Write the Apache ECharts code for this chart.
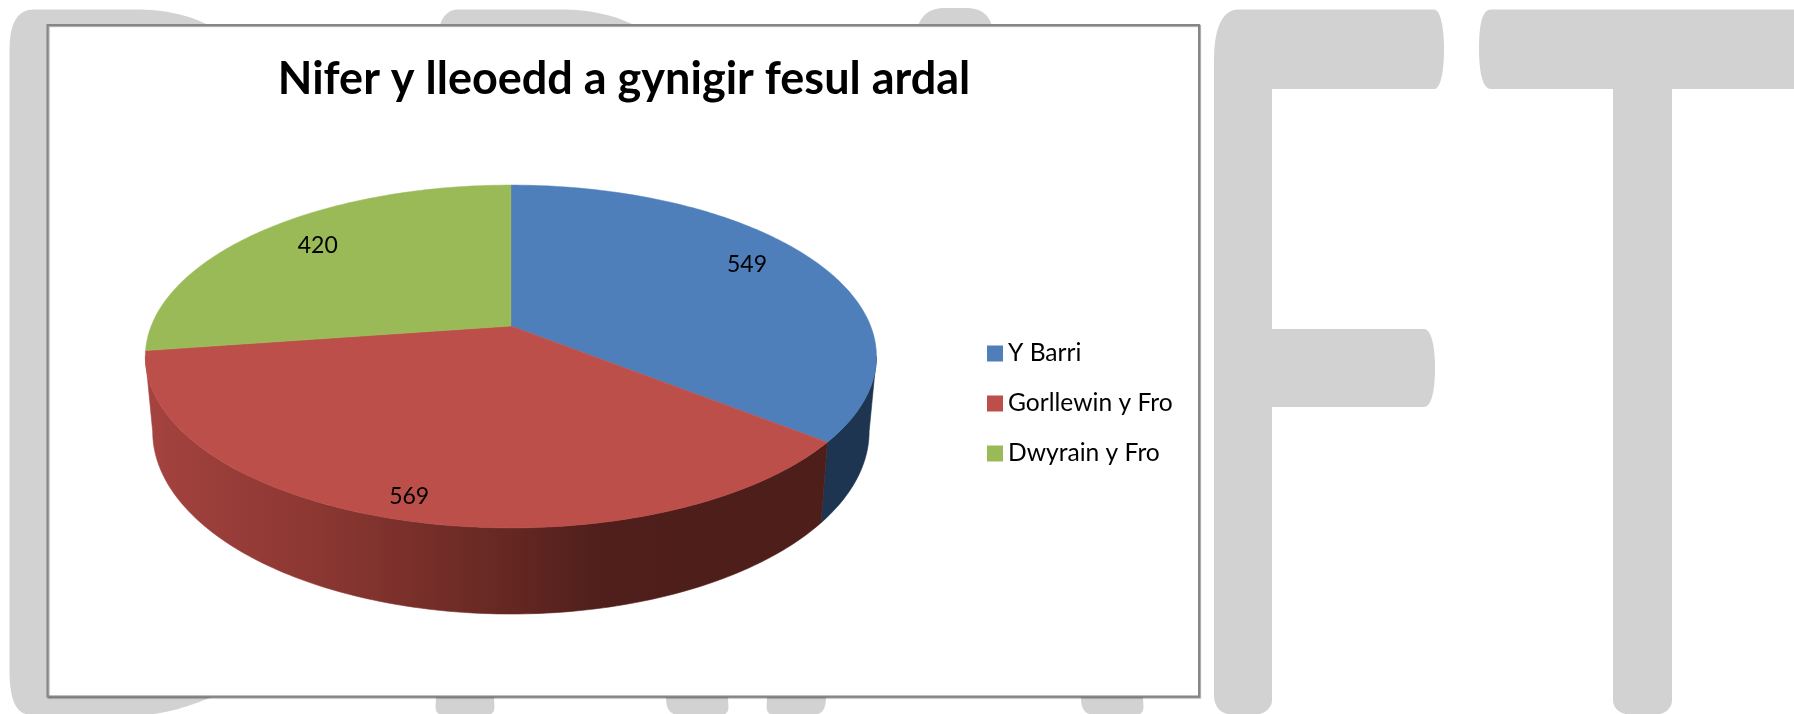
<!DOCTYPE html>
<html>
<head>
<meta charset="utf-8">
<style>html,body{margin:0;padding:0;background:#fff}#c{width:1794px;height:714px}</style>
<script src="https://cdn.jsdelivr.net/npm/echarts@6/dist/echarts.min.js"></script>
</head>
<body>
<div id="c"></div>
<script>
const chartTitle = 'Nifer y lleoedd a gynigir fesul ardal';
const categories = ['Y Barri', 'Gorllewin y Fro', 'Dwyrain y Fro'];
const values = [549, 569, 420];

const topColors = ['#4E7FBB', '#BD4F4A', '#9ABA57'];
const FONT = 'Lato, "Open Sans", sans-serif';
const LABEL_R = [0.8, 0.9, 0.8];
const LABEL_NUDGE = [[-8, -7], [-2, 0], [6, -1]];
// perspective disc projection
const CX = 510.9, CY = 326, RX = 359.7, RY = 166, K = 0.1778;
const BX = 0.98, BY = 1.065, BA = 73;
const total = values.reduce((a, b) => a + b, 0);
const startFrac = i => values.slice(0, i).reduce((a, b) => a + b, 0) / total;
const rimStart = Math.acos(-K), rimEnd = 2 * Math.PI - rimStart;

function project(theta, r, bottom) {
  const sx = r * Math.sin(theta), s = -r * Math.cos(theta);
  const d = 1 - K * s;
  const x = RX * sx / d, y = RY * s / d;
  return bottom ? [CX + BX * x, CY + BA + BY * y] : [CX + x, CY + y];
}
function arc(a0, a1, bottom) {
  const n = Math.max(2, Math.ceil(Math.abs(a1 - a0) * 60)), pts = [];
  for (let i = 0; i <= n; i++) pts.push(project(a0 + (a1 - a0) * i / n, 1, bottom));
  return pts;
}
function wallFill(i) {
  if (i === 0) return '#1D3551';
  if (i === 1) return new echarts.graphic.LinearGradient(145, 0, 700, 0, [
    { offset: 0, color: '#A5433F' }, { offset: 0.357, color: '#873530' },
    { offset: 0.658, color: '#652722' }, { offset: 0.82, color: '#501F1B' }, { offset: 1, color: '#4E1E1A' }], true);
  return '#5C7032';
}
function renderSlice(params, api) {
  const i = params.seriesIndex;
  const a0 = startFrac(i) * 2 * Math.PI, a1 = a0 + api.value(0) / total * 2 * Math.PI;
  const children = [];
  // side wall: only the rim below the disc's widest points can be seen
  const w0 = Math.max(a0, rimStart), w1 = Math.min(a1, rimEnd);
  if (w1 > w0) {
    const fill = wallFill(i);
    children.push({
      type: 'polygon', z2: 1,
      shape: { points: arc(w0, w1, false).concat(arc(w0, w1, true).reverse()) },
      style: { fill, stroke: fill, lineWidth: 0.6 }
    });
  }
  const color = topColors[i];
  children.push({
    type: 'polygon', z2: 10,
    shape: { points: [project(0, 0, false)].concat(arc(a0, a1, false)) },
    style: { fill: color, stroke: color, lineWidth: 0.5 }
  });
  const lp = project((a0 + a1) / 2, LABEL_R[i], false);
  children.push({
    type: 'text', z2: 20,
    style: { text: String(api.value(0)), x: lp[0] + LABEL_NUDGE[i][0], y: lp[1] + LABEL_NUDGE[i][1], fill: '#000', font: '23px ' + FONT, align: 'center', verticalAlign: 'middle' }
  });
  return { type: 'group', children };
}

// --- faint DRAFT watermark behind the chart frame ---
function bez(out, p0, c) {
  for (let t = 1 / 16; t <= 1.0001; t += 1 / 16) {
    const u = 1 - t;
    out.push([u*u*u*p0[0] + 3*u*u*t*c[0] + 3*u*t*t*c[2] + t*t*t*c[4],
              u*u*u*p0[1] + 3*u*u*t*c[1] + 3*u*t*t*c[3] + t*t*t*c[5]]);
  }
}
function shape(cmds) {
  const pts = [cmds[0]];
  for (let i = 1; i < cmds.length; i++) {
    const c = cmds[i], last = pts[pts.length - 1];
    if (c.length === 2) pts.push(c); else bez(pts, last, c);
  }
  return { type: 'polygon', silent: true, shape: { points: pts }, style: { fill: '#D2D2D2' } };
}
const WB = 714.5;
const foot = (a, b, la, lb) => shape([[a, 690], [b, 690], [b, 697], [b, 706, b - lb + 4, WB, b - lb - 6, WB], [a + la + 6, WB], [a + la - 4, WB, a, 706, a, 697]]);
const watermark = [
  shape([[9.5, 50], [9.5, 22, 18, 9.5, 34, 9.5], [135, 9.5], [165, 9.5, 190, 15, 210, 26], [300, 60], [300, 660], [212, 697],
         [190, 706, 165, WB, 143, WB], [30, WB], [16, WB, 9.5, 700, 9.5, 670]]),
  shape([[438, 40], [438, 22, 445, 9.5, 458, 9.5], [560, 9.5], [590, 9.5, 615, 15, 636, 26], [636, 60], [438, 60]]),
  foot(436, 494, 1, 1), foot(666, 728, 6, 1), foot(767, 826, 1, 6), foot(1081, 1143, 6, 1),
  shape([[917, 30], [920, 15, 930, 8, 945, 8], [965, 8], [982, 8, 990, 15, 993, 30]]),
  shape([[1214, 60], [1214, 25, 1224, 9.5, 1238, 9.5], [1434, 9.5], [1441, 9.5, 1444, 30, 1444, 49], [1444, 70, 1441, 89, 1434, 89], [1272, 89],
         [1272, 329], [1424, 329], [1431, 329, 1435, 345, 1435, 368], [1435, 392, 1431, 407, 1424, 407], [1272, 407],
         [1272, 700], [1272, 708, 1264, WB, 1256, WB], [1232, WB], [1222, WB, 1214, 708, 1214, 695]]),
  shape([[1479, 49], [1479, 25, 1482, 9.5, 1491, 9.5], [1800, 9.5], [1800, 89], [1672, 89], [1672, 700], [1672, 708, 1665, WB, 1656, WB],
         [1630, WB], [1620, WB, 1613, 708, 1613, 700], [1613, 89], [1491, 89], [1482, 89, 1479, 70, 1479, 49]])
];

const chart = echarts.init(document.getElementById('c'));
chart.setOption({
  backgroundColor: '#fff',
  animation: false,
  title: { text: chartTitle, left: 619, top: 52, textAlign: 'center',
    textStyle: { fontFamily: FONT, fontWeight: 'bold', fontSize: 45, color: '#000' } },
  legend: {
    orient: 'vertical', left: 982, top: 336, itemWidth: 16, itemHeight: 16, itemGap: 25,
    icon: 'rect', selectedMode: false, data: categories,
    textStyle: { fontFamily: FONT, fontSize: 24.6, color: '#000' }
  },
  graphic: { elements: watermark.concat([
    { type: 'rect', silent: true, z: 1, shape: { x: 47.5, y: 25, width: 1151.5, height: 671.5 },
      style: { fill: '#fff', stroke: '#868686', lineWidth: 2, shadowColor: 'rgba(0,0,0,0.35)', shadowBlur: 1, shadowOffsetX: 1, shadowOffsetY: 1 } }
  ]) },
  series: categories.map((name, i) => ({
    type: 'custom', name, coordinateSystem: 'none', silent: true,
    itemStyle: { color: topColors[i] },
    data: [[values[i]]],
    renderItem: renderSlice
  }))
});
</script>
</body>
</html>
